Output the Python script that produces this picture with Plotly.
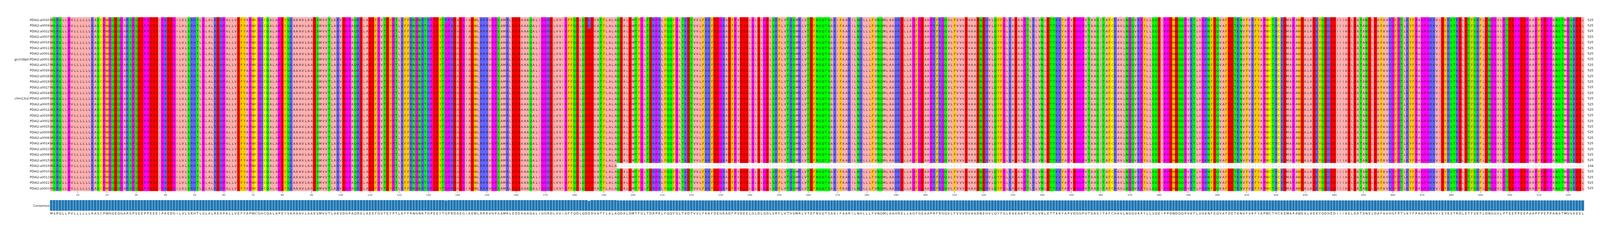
import plotly.graph_objects as go
from collections import Counter

row_names = ["PDIA2:a0020","PDIA2:a0004","PDIA2:a0022","PDIA2:a0007","PDIA2:a0016","PDIA2:a0011",
             "PDIA2:a0001","grch38p0:PDIA2:a0001","PDIA2:a0017","PDIA2:a0026","PDIA2:a0028",
             "PDIA2:a0018","PDIA2:a0027","PDIA2:a0024","chm13v2:PDIA2:a0005","PDIA2:a0005",
             "PDIA2:a0012","PDIA2:a0029","PDIA2:a0002","PDIA2:a0025","PDIA2:a0009","PDIA2:a0006",
             "PDIA2:a0014","PDIA2:a0023","PDIA2:a0008","PDIA2:a0015","PDIA2:a0019","PDIA2:a0010",
             "PDIA2:a0013","PDIA2:a0021","PDIA2:a0003"]

reference_seq = ("MSRQLLPVLLLLLLRASCPWGQEQGARSPSEEPPEEEIPKEDGILVLSRHTLGLALREHPALLVEFYAPWCGHCQALAPEYSKAAAVL"
                 "AAESMVVTLAKVDGPAQRELAEEFGVTEYPTLKFFRNGNRTHPEEYTGPRDAEGIAEWLRRRVGPSAMRLEDEAAAQALIGGRDLVV"
                 "IGFFQDLQDEDVATFLALAQDALDMTFGLTDRPRLFQQFGLTKDTVVLFKKFDEGRADFPVDEELGLDLGDLSRFLVTHSMRLVTEF"
                 "NSQTSAKIFAARILNHLLLFVNQMLAAHRELLAGFGEAAPRFRGQVLFVVVDVAADNEHVLQYFGLKAEAAPTLRLVNLETTKKYAPV"
                 "DGGPVTAASITAFCHAVLNGQVKPYLLSQEIPPDWDQQPVKTLVGKNFEQVAFDETKNVFVKFYAPWCTHCKEMAPAWEALAEKYQD"
                 "HEDIIIAELDATANELDAFAVHGFPTLKYFPAGPGRKVIEYKSTRDLETFSKFLDNGGVLPTEEPPEEPAAPFPEPPANSTMGSKEEL")
assert len(reference_seq) == 525, len(reference_seq)

variants = [(0, 185, "K"), (1, 185, "K"), (0, 136, "R")]
gapped = [(26, 195)]

seqs = [list(reference_seq) for _ in row_names]
for r, p, a in variants:
    seqs[r][p - 1] = a
for r, start in gapped:
    for i in range(start - 1, 525):
        seqs[r][i] = "-"

groups = {"-": 0}
for a in "ILVAM": groups[a] = 1
for a in "FWY": groups[a] = 2
for a in "KRH": groups[a] = 3
for a in "DE": groups[a] = 4
for a in "STNQ": groups[a] = 5
for a in "PG": groups[a] = 6
groups["C"] = 7
cols = ["#ffffff", "#ffafaf", "#ffc800", "#6464ff", "#ff0000", "#00ff00", "#ff00ff", "#ffff00"]
n = len(cols)
cscale = []
for i, c in enumerate(cols):
    cscale += [[i / n, c], [(i + 1) / n, c]]

z = [[groups[a] + 0.5 for a in s] for s in seqs]
positions = list(range(1, 526))
rows = list(range(len(row_names)))

cons, cons_h = [], []
for j in range(525):
    c = Counter(s[j] for s in seqs)
    a, k = c.most_common(1)[0]
    cons.append(a)
    cons_h.append(k / len(seqs))

FS = 7.8
fig = go.Figure()
fig.add_trace(go.Heatmap(z=z, x=positions, y=rows, text=seqs, texttemplate="%{text}",
                         textfont=dict(size=FS, color="#222", family="DejaVu Sans"),
                         colorscale=cscale, zmin=0, zmax=n, showscale=False, hoverinfo="skip"))
fig.add_trace(go.Bar(x=positions, y=cons_h, xaxis="x2", yaxis="y2", width=1,
                     marker=dict(color="#1f77b4", line=dict(color="#d8e6f2", width=0.8)), showlegend=False))

W, H = 5518, 582
x0, x1 = 161.5, 5453
fig.update_layout(
    autosize=True,
    margin=dict(l=0, r=0, t=0, b=0, autoexpand=False), plot_bgcolor="white", paper_bgcolor="white",
    font=dict(family="DejaVu Sans", color="#222"),
    xaxis=dict(domain=[x0 / W, x1 / W], range=[0.5, 525.5], tickvals=list(range(10, 526, 10)),
               ticks="outside", ticklen=3, tickcolor="#333", tickfont=dict(size=6.3, color="#333"),
               showgrid=False, zeroline=False, anchor="y", automargin=False),
    yaxis=dict(domain=[1 - 482 / H, 1 - 36 / H], range=[len(row_names) - 0.5, -0.5],
               tickvals=rows, ticktext=row_names, tickfont=dict(size=FS, color="#222"),
               showgrid=False, zeroline=False, ticks="", anchor="x", automargin=False),
    xaxis2=dict(domain=[x0 / W, x1 / W], range=[0.5, 525.5], tickvals=positions, ticktext=cons,
                tickfont=dict(size=FS, color="#222"), ticks="", showgrid=False, zeroline=False,
                anchor="y2", automargin=False, tickangle=0),
    yaxis2=dict(domain=[1 - 533 / H, 1 - 505 / H], range=[0, 1], tickvals=[0.5], ticktext=["Consensus"],
                tickfont=dict(size=FS, color="#222"), showgrid=False, zeroline=False, ticks="",
                anchor="x2", automargin=False),
    bargap=0,
)
for i, s in enumerate(seqs):
    fig.add_annotation(x=5462 / W, xref="paper", xanchor="left", y=i, yref="y",
                       text=str(sum(1 for a in s if a != "-")), showarrow=False,
                       font=dict(size=FS, color="#222"))
fig.write_html("out.html", default_width="100vw", default_height="100vh",
               config={"responsive": True})
